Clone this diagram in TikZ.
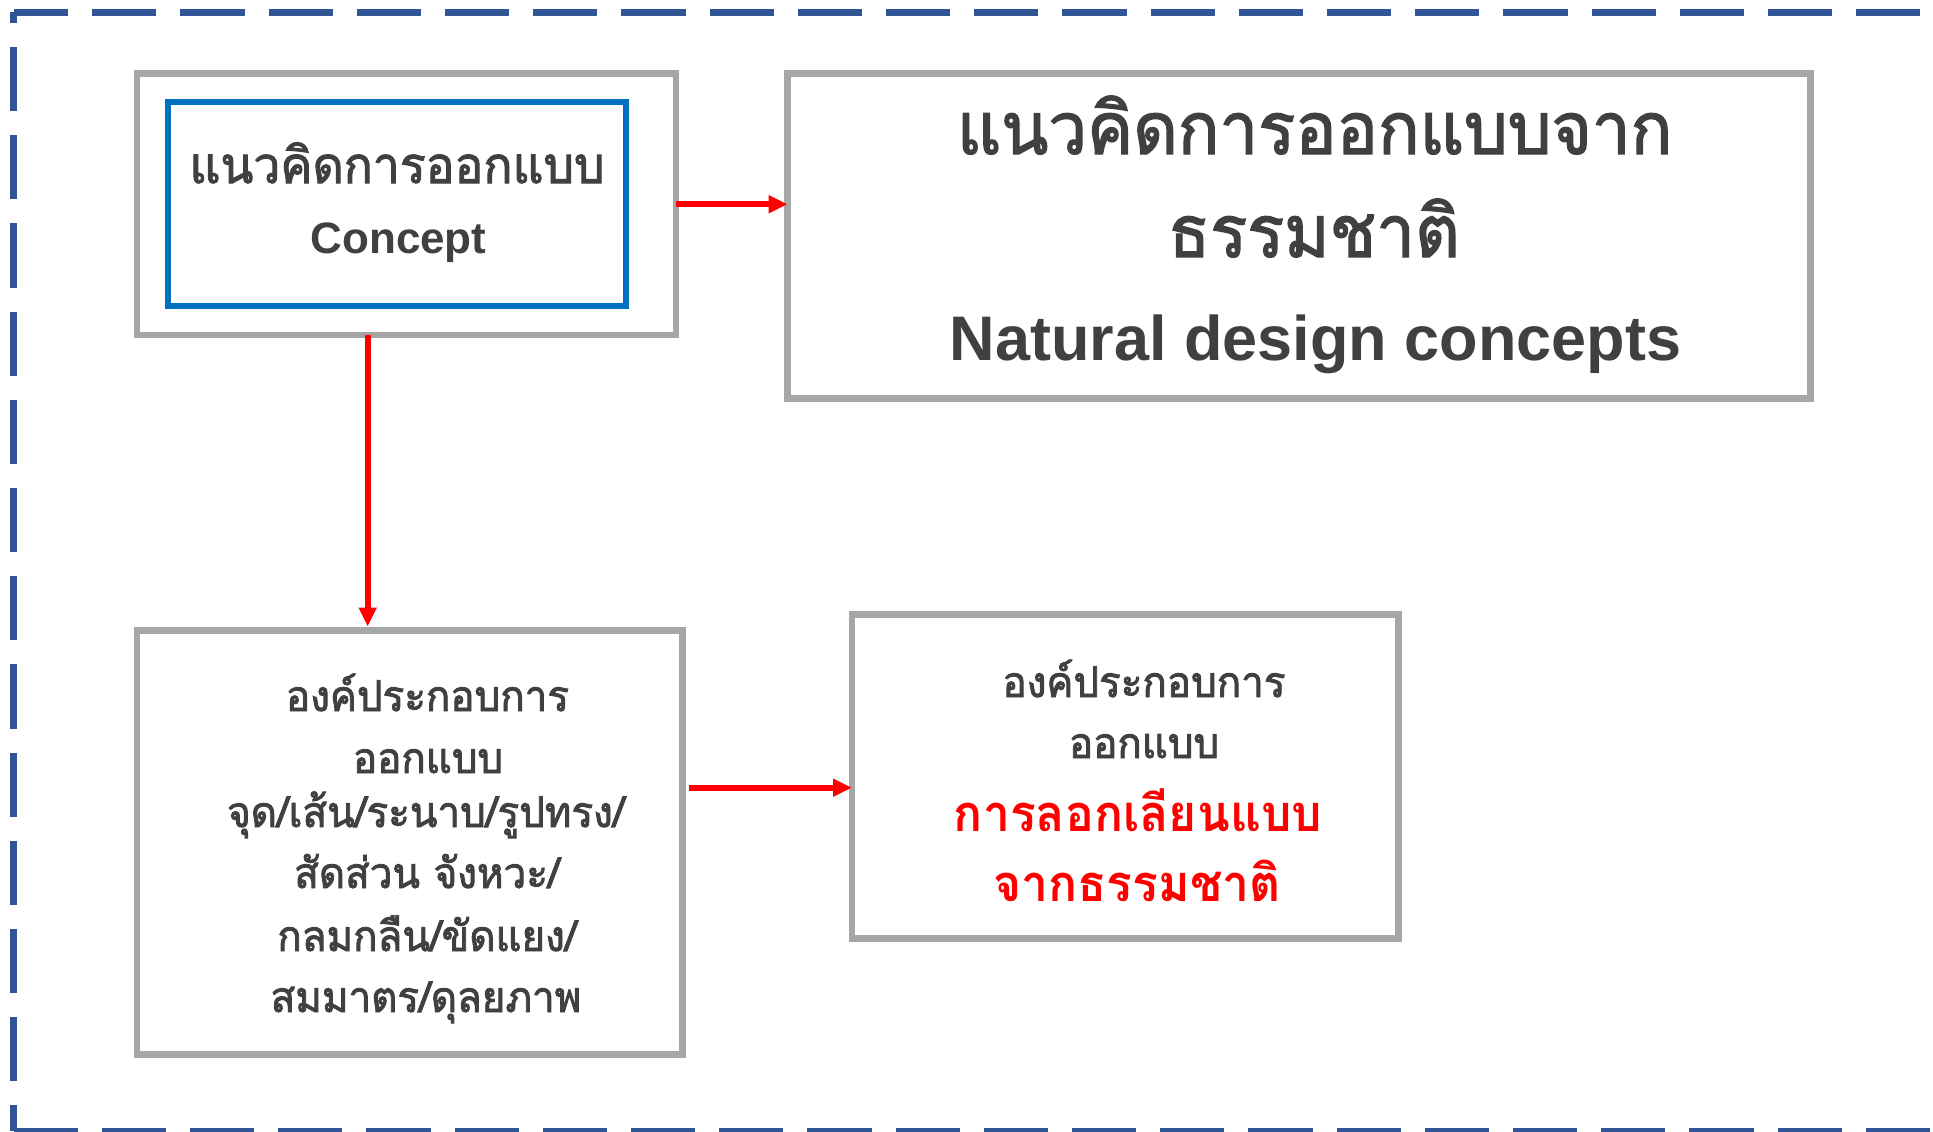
\documentclass[tikz,border=0pt]{standalone}
\usepackage{fontspec}
\usetikzlibrary{arrows.meta}
\newfontfamily\thai[Script=Thai, FakeStretch=0.95, FakeBold=2]{Loma}
\newfontfamily\thaibold[Script=Thai, FakeStretch=0.95]{Loma}
\newfontfamily\arial{Liberation Sans}
\definecolor{frameblue}{HTML}{2F5597}
\definecolor{boxgray}{HTML}{A6A6A6}
\definecolor{innerblue}{HTML}{0070C0}
\definecolor{txtgray}{HTML}{404040}
\definecolor{arrred}{HTML}{FF0000}
\begin{document}
\begin{tikzpicture}[x=1pt,y=-1pt,
  graybox/.style={draw=boxgray, line width=6.5pt, inner sep=0pt, outer sep=0pt, rectangle},
  bluebox/.style={draw=innerblue, line width=6pt, inner sep=0pt, outer sep=0pt, rectangle},
  arr/.style={draw=arrred, line width=6pt, -{Triangle[length=19pt,width=17pt]}},
  framedash/.style={draw=frameblue, line width=7pt},
  txt/.style={anchor=base, inner sep=0pt, outer sep=0pt, text=txtgray},
  thaiM/.style={txt, font=\thai\fontsize{50.6}{56}\selectfont},
  thaiL/.style={txt, font=\thai\fontsize{72.5}{80}\selectfont},
  thaiS/.style={txt, font=\thai\fontsize{42.5}{48}\selectfont},
  thaiRed/.style={txt, text=arrred, font=\thaibold\bfseries\fontsize{50.6}{56}\selectfont},
  latM/.style={txt, font=\arial\bfseries\fontsize{44}{50}\selectfont},
  latL/.style={txt, font=\arial\bfseries\fontsize{63}{70}\selectfont}
]
\useasboundingbox (0,0) rectangle (1933,1132);
\fill[white] (0,0) rectangle (1933,1132);

% dashed frame
\draw[framedash, dash pattern=on 64.2pt off 24pt, dash phase=9.5pt] (13.5,12.5) -- (1960,12.5);
\draw[framedash, dash pattern=on 64.2pt off 24pt, dash phase=53.7pt] (13.5,12.5) -- (13.5,1131);
\draw[framedash, dash pattern=on 64.2pt off 24pt, dash phase=0pt] (13.5,1131) -- (1960,1131);

% boxes
\node[graybox, minimum width=539pt, minimum height=261.5pt] (b1) at (406.5,204.25) {};
\node[bluebox, minimum width=458.5pt, minimum height=204.3pt] (b1in) at (396.75,203.65) {};
\node[graybox, minimum width=1023pt, minimum height=325pt] (b2) at (1299,236) {};
\node[graybox, minimum width=545.5pt, minimum height=424pt] (b3) at (409.75,842.5) {};
\node[graybox, minimum width=546.5pt, minimum height=324pt] (b4) at (1125.25,776.5) {};

% texts box 1
\node[thaiM] (t1a) at (397,183) {แนวคิดการออกแบบ};
\node[latM] (t1b) at (398.5,253) {Concept};

% texts box 2
\node[thaiL] (t2a) at (1314.5,154) {แนวคิดการออกแบบจาก};
\node[thaiL] (t2b) at (1314,257) {ธรรมชาติ};
\node[latL] (t2c) at (1315.7,360) {Natural design concepts};

% texts box 3
\node[thaiS] (t3a) at (427.5,711) {องค์ประกอบการ};
\node[thaiS] (t3b) at (428,773) {ออกแบบ};
\node[thaiS] (t3c) at (425.8,827) {จุด/เส้น/ระนาบ/รูปทรง/};
\node[thaiS] (t3d) at (427,888) {สัดส่วน จังหวะ/};
\node[thaiS] (t3e) at (427,951) {กลมกลืน/ขัดแยง/};
\node[thaiS] (t3f) at (426,1012) {สมมาตร/ดุลยภาพ};

% texts box 4
\node[thaiS] (t4a) at (1144,697) {องค์ประกอบการ};
\node[thaiS] (t4b) at (1144,758) {ออกแบบ};
\node[thaiRed] (t4c) at (1138,831) {การลอกเลียนแบบ};
\node[thaiRed] (t4d) at (1137,901) {จากธรรมชาติ};

% arrows
\draw[arr] (b1.east) -- (b1.east -| b2.west);
\coordinate (a2) at (367.7,335);
\draw[arr, shorten >=4pt] (a2) -- (a2 |- b3.north);
\coordinate (a3) at (0,787.7);
\draw[arr, shorten <=6.8pt] (b3.east |- a3) -- (b4.west |- a3);
\end{tikzpicture}
\end{document}
